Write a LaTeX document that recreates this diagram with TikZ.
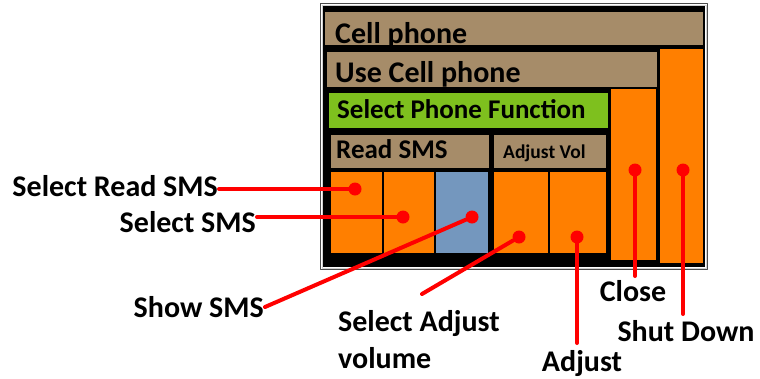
\documentclass[tikz,border=0pt]{standalone}
\usepackage{fontspec}
\setmainfont{Carlito}
\definecolor{tan}{RGB}{166,140,105}
\definecolor{orng}{RGB}{255,127,0}
\definecolor{grn}{RGB}{126,192,30}
\definecolor{steel}{RGB}{116,151,190}
\tikzset{
	dot/.style={circle, fill=red, inner sep=0pt, minimum size=13pt},
	lbl/.style={inner sep=1pt, font=\bfseries\fontsize{30}{37}\selectfont},
	conn/.style={red, line width=4pt}
}
\begin{document}
\begin{tikzpicture}[x=1pt, y=-1pt, line join=round, line cap=round]
	\useasboundingbox (0,0) rectangle (760,378);
	% frame of the phone
	\draw[black!70, line width=1.5pt] (320.5,3.5) rectangle (707.5,269.5);
	\draw[gray!35, line width=1pt] (322,5) rectangle (706,268);
	\fill[black] (323,6) rectangle (705,267);
	\foreach \xa/\ya/\xb/\yb/\col in {325/12/703/45/tan, 327/52/657/87/tan, 660/49/703/263/orng,
		329/93/608/128/grn, 611/89/656/260/orng, 331/135/489/168/tan, 494/135/606/168/tan,
		331/172/382/253/orng, 384/172/434/253/orng, 436/172/488/253/steel,
		494/172/548/253/orng, 550/172/606/253/orng}
		\fill[\col] (\xa,\ya) rectangle (\xb,\yb);
	% texts in the boxes
	\node[lbl, inner sep=0pt, anchor=base west] (tCell) at (335,43) {Cell phone};
	\node[lbl, inner sep=0pt, anchor=base west] (tUse) at (335,82) {Use Cell phone};
	\node[lbl, inner sep=0pt, anchor=base west, font=\bfseries\fontsize{27}{30}\selectfont] (tFunc) at (337,118) {Select Phone Function};
	\node[lbl, inner sep=0pt, anchor=base west, font=\bfseries\fontsize{27}{30}\selectfont] (tRead) at (336,158) {Read SMS};
	\node[lbl, inner sep=0pt, anchor=base west, font=\bfseries\fontsize{19.5}{24}\selectfont] (tVol) at (503,158) {Adjust Vol};
	% dots
	\node[dot] (dRead) at (355,189) {};
	\node[dot] (dSel) at (403,217) {};
	\node[dot] (dShow) at (472,217) {};
	\node[dot] (dAdj) at (519,237) {};
	\node[dot] (dVol) at (577,237) {};
	\node[dot] (dClose) at (635,170) {};
	\node[dot] (dShut) at (683,170) {};
	% labels
	\node[lbl, anchor=east] (lRead) at (219,186) {Select Read SMS};
	\node[lbl, anchor=east] (lSel) at (257,222) {Select SMS};
	\node[lbl, anchor=east] (lShow) at (265,307) {Show SMS};
	\node[lbl, anchor=north west, align=left] (lAdj) at (337,309) {Select Adjust\\volume};
	\node[lbl, anchor=north] (lVol) at (582,349) {Adjust};
	\node[lbl, anchor=north] (lClose) at (633,279) {Close};
	\node[lbl, anchor=north] (lShut) at (686,319) {Shut Down};
	% connectors
	\draw[conn] (lRead.east |- dRead) -- (dRead);
	\draw[conn] (lSel.east |- dSel) -- (dSel);
	\draw[conn] (lShow.east) -- (dShow);
	\draw[conn] (lAdj.north) ++(3,-15) -- (dAdj);
	\draw[conn] (lVol.north -| dVol) ++(0,-6) -- (dVol);
	\draw[conn] (lClose.north -| dClose) ++(0,-3) -- (dClose);
	\draw[conn] (lShut.north -| dShut) ++(0,-5) -- (dShut);
\end{tikzpicture}
\end{document}
